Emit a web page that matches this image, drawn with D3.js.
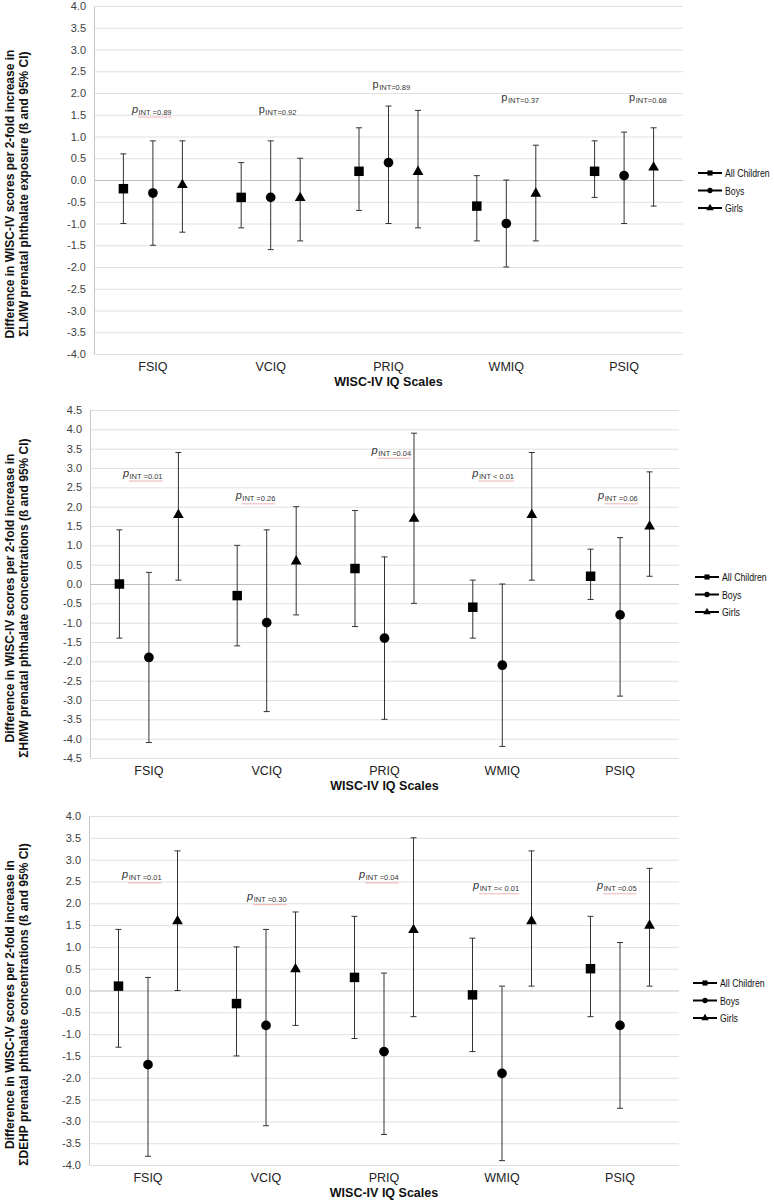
<!DOCTYPE html>
<html>
<head>
<meta charset="utf-8">
<script src="https://cdn.jsdelivr.net/npm/d3@7"></script>
<style>
  html, body { margin: 0; padding: 0; background: #fff; }
  svg { display: block; font-family: "Liberation Sans", Arial, sans-serif; }
</style>
</head>
<body>
<svg id="chart" width="774" height="1200"></svg>
<script>
// ---------------- DATA ----------------
const categories = ["FSIQ", "VCIQ", "PRIQ", "WMIQ", "PSIQ"];
const groups = ["All Children", "Boys", "Girls"];
const xTitle = "WISC-IV IQ Scales";

// Panel 1: ΣLMW  (per category: [All Children, Boys, Girls])
const lmwEst  = [[-0.2, -0.3, -0.1], [-0.4, -0.4, -0.4], [0.2, 0.4, 0.2], [-0.6, -1.0, -0.3], [0.2, 0.1, 0.3]];
const lmwLow  = [[-1.0, -1.5, -1.2], [-1.1, -1.6, -1.4], [-0.7, -1.0, -1.1], [-1.4, -2.0, -1.4], [-0.4, -1.0, -0.6]];
const lmwHigh = [[0.6, 0.9, 0.9], [0.4, 0.9, 0.5], [1.2, 1.7, 1.6], [0.1, 0.0, 0.8], [0.9, 1.1, 1.2]];
const lmwP    = ["INT =0.89", "INT=0.92", "INT=0.89", "INT=0.37", "INT=0.68"];
const lmwTitle = ["Difference in WISC-IV scores per 2-fold increase in", "ΣLMW prenatal phthalate exposure (ß and 95% CI)"];

// Panel 2: ΣHMW
const hmwEst  = [[0.0, -1.9, 1.8], [-0.3, -1.0, 0.6], [0.4, -1.4, 1.7], [-0.6, -2.1, 1.8], [0.2, -0.8, 1.5]];
const hmwLow  = [[-1.4, -4.1, 0.1], [-1.6, -3.3, -0.8], [-1.1, -3.5, -0.5], [-1.4, -4.2, 0.1], [-0.4, -2.9, 0.2]];
const hmwHigh = [[1.4, 0.3, 3.4], [1.0, 1.4, 2.0], [1.9, 0.7, 3.9], [0.1, 0.0, 3.4], [0.9, 1.2, 2.9]];
const hmwP    = ["INT =0.01", "INT =0.26", "INT =0.04", "INT < 0.01", "INT =0.06"];
const hmwTitle = ["Difference in WISC-IV scores per 2-fold increase in", "ΣHMW prenatal phthalate concentrations (ß and 95% CI)"];

// Panel 3: ΣDEHP
const dehpEst  = [[0.1, -1.7, 1.6], [-0.3, -0.8, 0.5], [0.3, -1.4, 1.4], [-0.1, -1.9, 1.6], [0.5, -0.8, 1.5]];
const dehpLow  = [[-1.3, -3.8, 0.0], [-1.5, -3.1, -0.8], [-1.1, -3.3, -0.6], [-1.4, -3.9, 0.1], [-0.6, -2.7, 0.1]];
const dehpHigh = [[1.4, 0.3, 3.2], [1.0, 1.4, 1.8], [1.7, 0.4, 3.5], [1.2, 0.1, 3.2], [1.7, 1.1, 2.8]];
const dehpP    = ["INT =0.01", "INT =0.30", "INT =0.04", "INT =< 0.01", "INT =0.05"];
const dehpTitle = ["Difference in WISC-IV scores per 2-fold increase in", "ΣDEHP prenatal phthalate concentrations (ß and 95% CI)"];

// ---------------- LAYOUT ----------------
const panels = [
  { est: lmwEst, low: lmwLow, high: lmwHigh, p: lmwP, title: lmwTitle,
    domain: [-4, 4], top: 6, bottom: 354, left: 94, right: 683,
    pLevel: [1.55, 1.55, 2.12, 1.82, 1.82], pDx: [-21, -12, -16, -5, 5], pItalic: [true, false, false, false, false], pUnder: [true, false, false, false, false],
    legendX: 698, legendY: 173 },
  { est: hmwEst, low: hmwLow, high: hmwHigh, p: hmwP, title: hmwTitle,
    domain: [-4.5, 4.5], top: 410, bottom: 758, left: 90, right: 679,
    pLevel: [2.78, 2.19, 3.37, 2.78, 2.19], pDx: [-26, -31, -13, -30, -22], pItalic: [true, true, true, true, true], pUnder: [true, true, true, true, true],
    legendX: 695, legendY: 577 },
  { est: dehpEst, low: dehpLow, high: dehpHigh, p: dehpP, title: dehpTitle,
    domain: [-4, 4], top: 816, bottom: 1165, left: 89, right: 679,
    pLevel: [2.57, 2.07, 2.57, 2.32, 2.32], pDx: [-26, -19, -25, -29, -23], pItalic: [true, true, true, true, true], pUnder: [true, true, true, true, true],
    legendX: 693, legendY: 983 }
];

const symbolTypes = [d3.symbolSquare, d3.symbolCircle, d3.symbolTriangle];
const symbolSizes = [90, 74, 50];
const legendSymbolSizes = [26, 22, 24];

const svg = d3.select("#chart");
svg.append("rect").attr("width", 774).attr("height", 1200).attr("fill", "#fff");

panels.forEach(P => {
  const g = svg.append("g");
  const y = d3.scaleLinear().domain(P.domain).range([P.bottom, P.top]);
  const x = d3.scaleBand().domain(categories).range([P.left, P.right]);
  const off = d3.scalePoint().domain(groups).range([-29.5, 29.5]);
  const ticks = d3.range(Math.round(P.domain[0] * 2), Math.round(P.domain[1] * 2) + 1).map(v => v / 2);
  const W = P.right - P.left;

  // gridlines
  const grid = g.append("g").attr("transform", `translate(${P.left},0)`)
    .call(d3.axisLeft(y).tickValues(ticks).tickSize(-W).tickFormat(""));
  grid.select(".domain").remove();
  grid.selectAll(".tick line").attr("stroke", d => d === 0 ? "#bdbdbd" : "#e0e0e0").attr("stroke-width", 1);

  // left axis line
  g.append("line").attr("x1", P.left + 0.5).attr("x2", P.left + 0.5)
    .attr("y1", y(P.domain[1])).attr("y2", y(P.domain[0]))
    .attr("stroke", "#c8c8c8");

  // tick labels
  const yax = g.append("g").attr("transform", `translate(${P.left},0)`)
    .call(d3.axisLeft(y).tickValues(ticks).tickSize(0).tickPadding(8).tickFormat(d => d.toFixed(1)));
  yax.select(".domain").remove();
  yax.selectAll("text").attr("font-size", 11).attr("fill", "#404040")
    .attr("font-family", "'Liberation Sans', Arial, sans-serif");

  // category labels
  const xax = g.append("g").attr("transform", `translate(0,${P.bottom})`)
    .call(d3.axisBottom(x).tickSize(0).tickPadding(8));
  xax.select(".domain").remove();
  xax.selectAll("text").attr("font-size", 12.5).attr("fill", "#222")
    .attr("font-family", "'Liberation Sans', Arial, sans-serif");

  // x title
  g.append("text").attr("x", (P.left + P.right) / 2).attr("y", P.bottom + 32)
    .attr("text-anchor", "middle").attr("font-size", 12.5).attr("font-weight", "bold")
    .attr("fill", "#111").text(xTitle);

  // y title
  const cy = (P.top + P.bottom) / 2 + 14;
  P.title.forEach((line, i) => {
    g.append("text")
      .attr("transform", `translate(${14 + i * 14},${cy}) rotate(-90)`)
      .attr("text-anchor", "middle").attr("font-size", 12).attr("font-weight", "bold")
      .attr("fill", "#111").text(line);
  });

  // error bars and markers
  categories.forEach((c, ci) => {
    groups.forEach((gr, gi) => {
      const cx = x(c) + x.bandwidth() / 2 + off(gr);
      const lo = P.low[ci][gi], hi = P.high[ci][gi], est = P.est[ci][gi];
      g.append("line").attr("x1", cx).attr("x2", cx).attr("y1", y(lo)).attr("y2", y(hi))
        .attr("stroke", "#333").attr("stroke-width", 1);
      [lo, hi].forEach(v => {
        g.append("line").attr("x1", cx - 3).attr("x2", cx + 3).attr("y1", y(v)).attr("y2", y(v))
          .attr("stroke", "#333").attr("stroke-width", 1);
      });
      g.append("path")
        .attr("d", d3.symbol().type(symbolTypes[gi]).size(symbolSizes[gi])())
        .attr("transform", `translate(${cx},${y(est) + (gi === 2 ? 0.5 : 0)})`)
        .attr("fill", "#000");
    });

    // p interaction labels
    const px = x(c) + x.bandwidth() / 2 + P.pDx[ci];
    const py = y(P.pLevel[ci]);
    const t = g.append("text").attr("x", px).attr("y", py).attr("fill", "#333");
    t.append("tspan").attr("font-size", 11).attr("font-style", P.pItalic[ci] ? "italic" : "normal").text("p");
    t.append("tspan").attr("font-size", 7.5).attr("dy", 2).attr("dx", 0.5).text(P.p[ci]);
    if (P.pUnder[ci]) {
      const bb = t.node().getBBox();
      g.append("line").attr("x1", bb.x + 7).attr("x2", bb.x + bb.width)
        .attr("y1", py + 4.5).attr("y2", py + 4.5)
        .attr("stroke", "#e6a0a0").attr("stroke-width", 0.8);
    }
  });

  // legend
  groups.forEach((gr, gi) => {
    const ly = P.legendY + gi * 17.5;
    g.append("line").attr("x1", P.legendX).attr("x2", P.legendX + 24).attr("y1", ly).attr("y2", ly)
      .attr("stroke", "#000").attr("stroke-width", 2);
    g.append("path")
      .attr("d", d3.symbol().type(symbolTypes[gi]).size(legendSymbolSizes[gi])())
      .attr("transform", `translate(${P.legendX + 12},${ly})`).attr("fill", "#000");
    g.append("text")
      .attr("transform", `translate(${P.legendX + 27},${ly + 4}) scale(0.76,1)`)
      .attr("font-size", 11.5).attr("fill", "#111").text(gr);
  });
});
</script>
</body>
</html>
